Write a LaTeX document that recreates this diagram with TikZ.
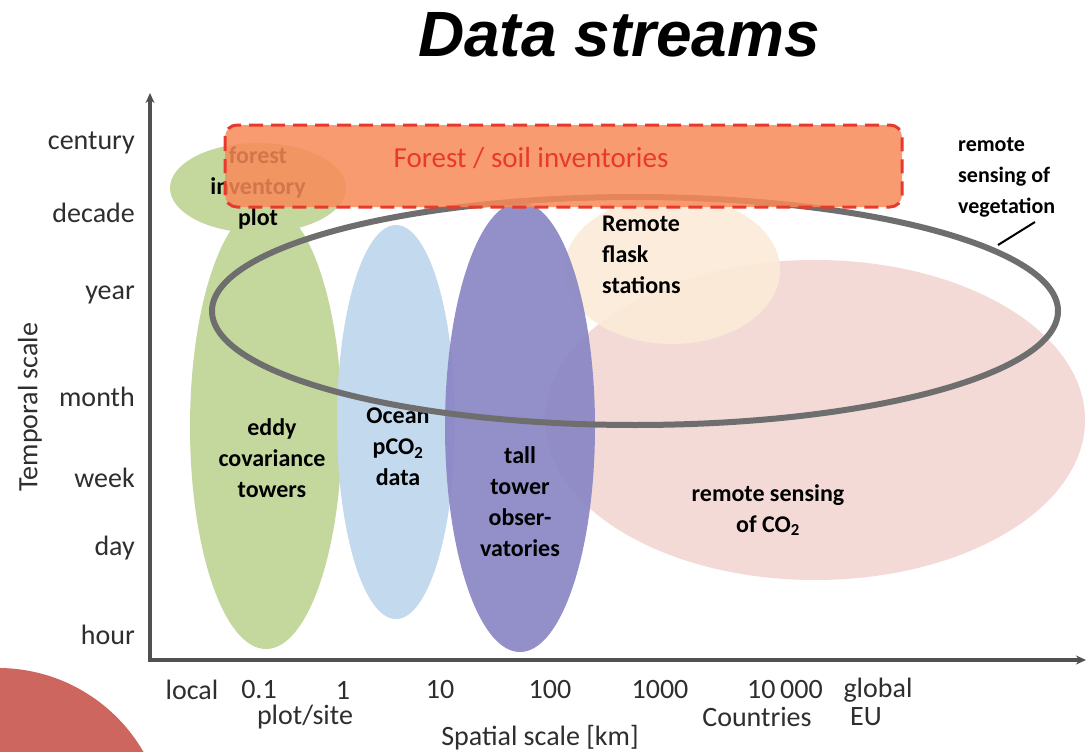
\documentclass[tikz,border=0pt]{standalone}
\usepackage{fontspec}
\setmainfont{Carlito}
\newfontfamily\titlefont{Liberation Sans}
\usetikzlibrary{arrows.meta}

\definecolor{eddygreen}{HTML}{C4D89E}
\definecolor{oceanblue}{HTML}{C3D9EE}
\definecolor{tallpurple}{HTML}{8A86C5}
\definecolor{rspink}{HTML}{F3DAD6}
\definecolor{flaskbeige}{HTML}{FCEBD8}
\definecolor{invorange}{HTML}{F98A58}
\definecolor{invred}{HTML}{E8392E}
\definecolor{veggray}{HTML}{6E6E6E}
\definecolor{axisgray}{HTML}{505050}
\definecolor{labelgray}{HTML}{2E2E2E}
\definecolor{discred}{HTML}{CD665E}

\tikzset{
  blobtext/.style={font=\fontsize{24}{31}\selectfont\bfseries, text=black, align=center, inner sep=0pt},
  ticklabel/.style={font=\fontsize{28}{30}\selectfont, text=labelgray, inner sep=0pt},
  axisline/.style={draw=axisgray, line width=3.5pt},
}

\begin{document}
\begin{tikzpicture}[x=1pt, y=-1pt]
\useasboundingbox (0,0) rectangle (1088,752);
\fill[white] (0,0) rectangle (1088,752);

% decorative disc in the lower left corner
\fill[discred] (-2,836) circle (168);

% title
\node[font=\titlefont\fontsize{64}{70}\selectfont\bfseries\itshape, anchor=base] (title) at (619,57) {Data streams};

% data-stream regions
\fill[rspink] (815,420) ellipse [x radius=270, y radius=160];
\fill[flaskbeige, opacity=0.9] (672,270) ellipse [x radius=108, y radius=74];
\fill[eddygreen] (266,427) ellipse [x radius=76, y radius=222];
\fill[oceanblue] (396,422) ellipse [x radius=59, y radius=197];
\fill[tallpurple, opacity=0.92] (520,427) ellipse [x radius=75, y radius=225];
\fill[eddygreen] (258,188) ellipse [x radius=88, y radius=45];

% region labels
\node[blobtext] (plot) at (258,188) {forest\\inventory\\plot};
\node[blobtext] (eddy) at (272,458) {eddy\\covariance\\towers};
\node[blobtext] (ocean) at (398,447) {Ocean\\pCO\textsubscript{2}\\data};
\node[blobtext] (tall) at (520,502) {tall\\tower\\obser-\\vatories};
\node[blobtext, align=left, anchor=west] (flask) at (602,255) {Remote\\flask\\stations};
\node[blobtext] (rsco2) at (768,510) {remote sensing\\of CO\textsubscript{2}};

% remote sensing of vegetation
\draw[veggray, line width=6pt] (635,311) ellipse [x radius=423, y radius=114];

% forest / soil inventories band
\fill[invorange, opacity=0.85, rounded corners=12pt] (225,125) rectangle (902,207);
\draw[invred, line width=3pt, dash pattern=on 14pt off 8pt, rounded corners=12pt] (225,125) rectangle (902,207);
\node[font=\fontsize{29}{31}\selectfont, text=invred, inner sep=0pt] (forestsoil) at (531,158) {Forest / soil inventories};

% vegetation label and pointer
\node[blobtext, align=left, anchor=west, font=\fontsize{22}{31}\selectfont\bfseries] (veglabel) at (958,177) {remote\\sensing of\\vegetation};
\coordinate (vegtail) at (1035,222);
\coordinate (veghead) at (998,245);
\draw[black, line width=2pt] (vegtail) -- (veghead);

% axes
\coordinate (ytop) at (150,93);
\coordinate (xend) at (1086,660);
\draw[axisline, -{Stealth[length=10pt,width=9pt]}] (150,662) -- (ytop);
\draw[axisline, -{Stealth[length=10pt,width=9pt]}] (148,660) -- (xend);

% temporal ticks
\node[ticklabel, anchor=east] (century) at (135,143) {century};
\node[ticklabel, anchor=east] (decade) at (135,213) {decade};
\node[ticklabel, anchor=east] (year) at (135,295) {year};
\node[ticklabel, anchor=east] (month) at (135,397) {month};
\node[ticklabel, anchor=east] (week) at (135,478) {week};
\node[ticklabel, anchor=east] (day) at (135,548) {day};
\node[ticklabel, anchor=east] (hour) at (135,635) {hour};
\node[ticklabel, rotate=90, font=\fontsize{28}{30}\selectfont] (tlabel) at (30,407) {Temporal scale};

% spatial ticks
\node[ticklabel] (local) at (192,690) {local};
\node[ticklabel] (p01) at (259,690) {0.1};
\node[ticklabel] (p1) at (343,690) {1};
\node[ticklabel] (p10) at (440,690) {10};
\node[ticklabel] (p100) at (550,690) {100};
\node[ticklabel] (p1000) at (660,690) {1000};
\node[ticklabel] (p10000) at (785,690) {10\,000};
\node[ticklabel] (global) at (878,690) {global};
\node[ticklabel] (plotsite) at (305,717) {plot/site};
\node[ticklabel] (countries) at (757,717) {Countries};
\node[ticklabel] (eu) at (866,717) {EU};
\node[ticklabel] (slabel) at (540,738) {Spatial scale [km]};
\end{tikzpicture}
\end{document}
